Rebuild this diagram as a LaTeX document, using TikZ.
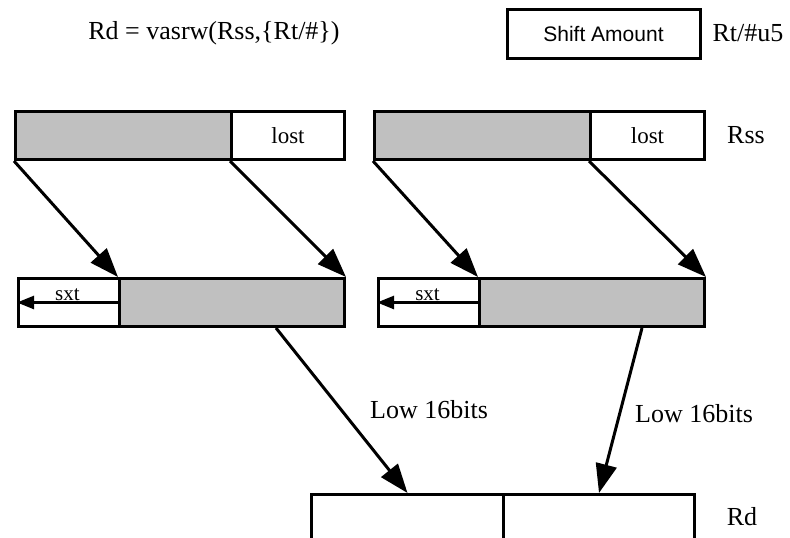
\documentclass[tikz,border=0pt]{standalone}
\usepackage{fontspec}
\setmainfont{Liberation Serif}
\newfontfamily\arialfont{Liberation Sans}
\usepackage{tikz}
\usetikzlibrary{arrows.meta}
\definecolor{fieldgray}{RGB}{192, 192, 192}
\newcommand*{\rh}{48}

\begin{document}
\begin{tikzpicture}[
   x=1pt, y=-1pt,
   grayfield/.style={rectangle, draw=black, fill=fieldgray, line width=3,
                     anchor=north west, inner sep=0, minimum height=\rh},
   whitefield/.style={rectangle, draw=black, fill=white, line width=3,
                      anchor=north west, inner sep=0, minimum height=\rh,
                      font=\fontsize{23}{26}\selectfont},
   rdfield/.style={rectangle, draw=black, fill=white, line width=3,
                   anchor=north west, inner sep=0, minimum height=60},
   lbl/.style={inner sep=0, font=\fontsize{26}{30}\selectfont},
   bigarrow/.style={-{Triangle[length=29pt, width=21pt]}, line width=3},
   sxtarrow/.style={-{Triangle[length=17pt, width=13pt]}, line width=2.5}
  ]

  \useasboundingbox (0, 0) rectangle (790, 538);
  \clip (0, 0) rectangle (790, 538);

  % Header
  \node (title) at (214, 33) [lbl] {Rd = vasrw(Rss,\{Rt/\#\})};
  \node (shamt) at (603.5, 33.5) [rectangle, draw=black, line width=3,
        minimum width=193, minimum height=49, inner sep=0,
        font=\arialfont\fontsize{21}{24}\selectfont] {Shift Amount};
  \node (rt) at (748, 33) [lbl] {Rt/\#u5};

  % Source register
  \node (hiA) at (14, 110) [grayfield, minimum width=216] {};
  \node (loA) at (230, 110) [whitefield, minimum width=113] {lost};
  \node (hiB) at (373, 110) [grayfield, minimum width=216] {};
  \node (loB) at (589, 110) [whitefield, minimum width=114] {lost};
  \node (rss) at (746, 135) [lbl] {Rss};

  % Shifted words
  \node (sxtA) at (17, 277) [whitefield, minimum width=101] {};
  \node (shA) at (118, 277) [grayfield, minimum width=225] {};
  \node (sxtB) at (377, 277) [whitefield, minimum width=101] {};
  \node (shB) at (478, 277) [grayfield, minimum width=225] {};

  \foreach \B/\E in {hiA.south west/shA.north west, loA.south west/shA.north east,
                     hiB.south west/shB.north west, loB.south west/shB.north east} {
    \draw[bigarrow] (\B) -- (\E);
  }

  \foreach \S/\W in {shA/sxtA, shB/sxtB} {
    \draw[sxtarrow] (\S.west) -- (\W.west)
      node[midway, above, inner sep=1, font=\fontsize{21}{24}\selectfont] {sxt};
  }

  % Destination register
  \node (rdHi) at (310, 493) [rdfield, minimum width=192] {};
  \node (rdLo) at (502, 493) [rdfield, minimum width=191] {};
  \node (rd) at (742, 517) [lbl] {Rd};

  \draw[bigarrow] ([xshift=44]shA.south) -- (rdHi.north);
  \draw[bigarrow] ([xshift=50]shB.south) -- (rdLo.north);
  \node (lowA) at (429, 410) [lbl] {Low 16bits};
  \node (lowB) at (694, 414) [lbl] {Low 16bits};

\end{tikzpicture}
\end{document}
